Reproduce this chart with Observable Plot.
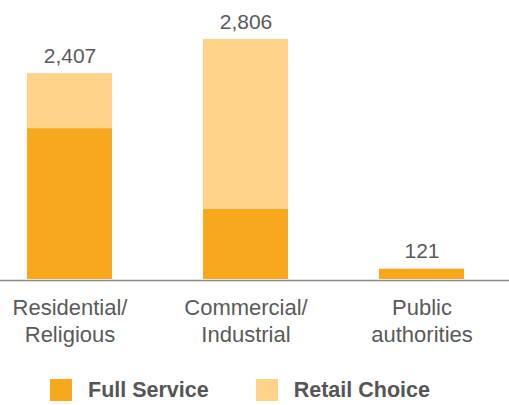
<!DOCTYPE html>
<html>
<head>
<meta charset="utf-8">
<script src="https://cdn.jsdelivr.net/npm/d3@7"></script>
<script src="https://cdn.jsdelivr.net/npm/@observablehq/plot@0.6"></script>
<style>
  html, body { margin: 0; padding: 0; background: #fff; }
  body { width: 509px; height: 405px; overflow: hidden; font-family: "Liberation Sans", Arial, sans-serif; }
  #legend { height: 40px; display: flex; align-items: center; padding-left: 50px; padding-top: 10px; box-sizing: border-box; }
  .item { display: flex; align-items: center; font-weight: bold; font-size: 21.5px; color: #555; }
  .sw { width: 22px; height: 22px; margin-right: 16px; }
</style>
</head>
<body>
<div id="chart"></div>
<div id="legend"></div>
<script>
const categories = ["Residential/Religious", "Commercial/Industrial", "Public authorities"];
const tickLabels = ["Residential/\nReligious", "Commercial/\nIndustrial", "Public\nauthorities"];
const series = ["Full Service", "Retail Choice"];
const fullService = [1764, 818, 121];
const retailChoice = [643, 1988, 0];
const totals = [2407, 2806, 121];
const totalLabels = ["2,407", "2,806", "121"];
const colors = ["#F8A81C", "#FDD38A"];

const rows = [];
categories.forEach((c, i) => {
  rows.push({category: c, series: series[0], value: fullService[i]});
  rows.push({category: c, series: series[1], value: retailChoice[i]});
});
const tops = categories.map((c, i) => ({category: c, total: totals[i], label: totalLabels[i], tick: tickLabels[i]}));

const chart = Plot.plot({
  width: 509,
  height: 365,
  marginLeft: 0,
  marginRight: 0,
  marginTop: 39,
  marginBottom: 86,
  style: {fontFamily: "'Liberation Sans', Arial, sans-serif", background: "#fff"},
  x: {domain: categories, range: [27, 465], paddingInner: 0.517, paddingOuter: 0, axis: null},
  y: {domain: [0, 2806], axis: null},
  color: {domain: series, range: colors},
  marks: [
    Plot.barY(rows, {x: "category", y: "value", fill: "series", order: series}),
    Plot.ruleY([0], {stroke: "#8a8a8a", strokeWidth: 1.5, dy: 1}),
    Plot.text(tops, {x: "category", y: "total", text: "label", lineAnchor: "bottom", dy: -11, fontSize: 21, fill: "#5a5a5a"}),
    Plot.text(tops, {x: "category", y: () => 0, text: "tick", lineAnchor: "top", dy: 16, fontSize: 22, lineHeight: 1.23, fill: "#5a5a5a"})
  ]
});
document.getElementById("chart").appendChild(chart);

const legend = document.getElementById("legend");
series.forEach((s, i) => {
  const item = document.createElement("div");
  item.className = "item";
  if (i > 0) item.style.marginLeft = "47px";
  const sw = document.createElement("div");
  sw.className = "sw";
  sw.style.background = colors[i];
  const t = document.createElement("span");
  t.textContent = s;
  item.appendChild(sw);
  item.appendChild(t);
  legend.appendChild(item);
});
</script>
</body>
</html>
